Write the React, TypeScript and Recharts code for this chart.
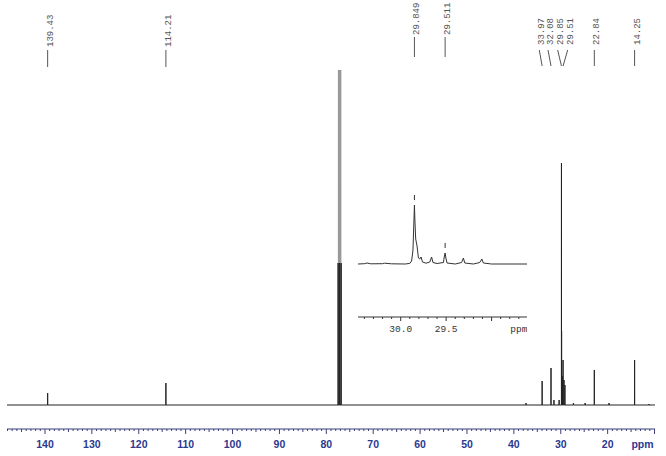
import React from 'react';
import { ComposedChart, Line, Scatter, XAxis, YAxis, ReferenceLine } from 'recharts';

// 13C spectrum, peaks (ppm, height above baseline)
const peakPpm = [139.43, 114.21, 77.48, 77.16, 76.84, 37.4, 33.97, 32.08, 31.45, 30.35, 29.85, 29.82, 29.78, 29.66, 29.51, 29.31, 29.11, 27.3, 24.8, 22.84, 19.7, 14.25, 11.2];
const peakHeight = [12, 22, 142, 142, 142, 2, 24, 37, 5, 5, 242, 74, 29, 29, 45, 25, 20, 2, 2, 35, 2, 45, 1];

// CDCl3 centre line, goes off the top
const solventPpm = [77.16];
const solventHeight = [335];

// expansion 28.6 - 30.5 ppm
const insetPpm = [30.47, 30.4, 30.37, 30.33, 30.2, 30.18, 30.1, 29.95, 29.9, 29.88, 29.865, 29.855, 29.849, 29.843, 29.835, 29.82, 29.805, 29.79, 29.776, 29.76, 29.72, 29.68, 29.66, 29.645, 29.6, 29.53, 29.519, 29.511, 29.503, 29.49, 29.4, 29.33, 29.31, 29.295, 29.2, 29.13, 29.107, 29.09, 29.0, 28.61];
const insetHeight = [0, 0.3, 1, 0.2, 0.3, 0.8, 0.2, 0, 0.6, 3, 14, 42, 59, 42, 25, 18, 6, 5, 7, 2, 0.8, 2, 7, 1.5, 0.5, 1.5, 8, 11, 6, 1, 0, 1.5, 6, 1, 0, 1.5, 5, 1, 0, 0];

// peak labels along the top
const labelText = ['139.43', '114.21', '33.97', '32.08', '29.85', '29.51', '22.84', '14.25'];
const labelPeak = [139.43, 114.21, 33.97, 32.08, 29.85, 29.51, 22.84, 14.25];
const labelAt = [139.43, 114.21, 34.58, 32.72, 30.66, 28.52, 22.84, 14.25];
const insetLabelText = ['29.849', '29.511'];
const insetLabelPeak = [29.849, 29.511];

// axis ticks
const mainLabels = [20, 30, 40, 50, 60, 70, 80, 90, 100, 110, 120, 130, 140];
const mainTicks = Array.from({ length: 139 }, (_, i) => 10 + i);
const insetTicks = [28.7, 28.8, 28.9, 29.0, 29.1, 29.2, 29.3, 29.4, 29.5, 29.6, 29.7, 29.8, 29.9, 30.0, 30.1, 30.2, 30.3, 30.4];
const insetLabels = ['30.0', '29.5'];

const spectrum: { x: number; y: number }[] = [{ x: 148.1, y: 0 }];
peakPpm.forEach((p, i) => {
  spectrum.push({ x: p + 0.012, y: 0 }, { x: p, y: peakHeight[i] }, { x: p - 0.012, y: 0 });
});
spectrum.push({ x: 9.9, y: 0 });

const solvent: { x: number; y: number }[] = [];
solventPpm.forEach((p, i) => {
  solvent.push({ x: p + 0.01, y: 0 }, { x: p, y: solventHeight[i] }, { x: p - 0.01, y: 0 });
});

const inset = insetPpm.map((p, i) => ({ x: p, y: insetHeight[i] }));

const mainLabelPoints = labelText.map((t, i) => ({ x: labelAt[i], y: i < 2 ? 358 : 360, text: t }));
const insetLabelPoints = insetLabelText.map((t, i) => ({ x: insetLabelPeak[i], y: 229, text: t }));

const AXIS = '#3b3f7f';
const BLUE = '#2b3990';
const GREY = '#555';

const MainTick = (props: any) => {
  const { x, y, payload } = props;
  const v = payload.value;
  const len = v % 10 === 0 ? 5 : v % 5 === 0 ? 3 : 2;
  return (
    <g>
      <line x1={x} x2={x} y1={y} y2={y + len} stroke={AXIS} strokeWidth={1} />
      {mainLabels.includes(v) && (
        <text x={x} y={y + 19} textAnchor="middle" fontSize={10.5} fontWeight="bold" fontFamily="Liberation Sans" fill={BLUE}>
          {v}
        </text>
      )}
      {v === 10 && (
        <text x={x - 12} y={y + 19} textAnchor="middle" fontSize={10.5} fontWeight="bold" fontFamily="Liberation Sans" fill={BLUE}>
          ppm
        </text>
      )}
    </g>
  );
};

const InsetTick = (props: any) => {
  const { x, y, payload } = props;
  const v = payload.value;
  const major = Math.round(v * 10) % 5 === 0;
  const txt = v.toFixed(1);
  return (
    <g>
      <line x1={x} x2={x} y1={y} y2={y + (major ? 4 : 2)} stroke="#333" strokeWidth={1} />
      {insetLabels.includes(txt) && (
        <text x={x} y={y + 15} textAnchor="middle" fontSize={9.5} fontFamily="Liberation Mono" fill="#333">
          {txt}
        </text>
      )}
      {Math.abs(v - 28.7) < 0.001 && (
        <text x={x} y={y + 15} textAnchor="middle" fontSize={9.5} fontFamily="Liberation Mono" fill="#333">
          ppm
        </text>
      )}
    </g>
  );
};

const VerticalLabel = (props: any) => {
  const { cx, cy, payload } = props;
  return (
    <text transform={`translate(${cx + 5},${cy}) rotate(-90)`} fontSize={9} fontFamily="Liberation Mono" fill={GREY}>
      {payload.text}
    </text>
  );
};

export default function App() {
  return (
    <div style={{ position: 'absolute', left: 0, top: 0, width: 666, height: 456, background: '#fff' }}>
      <div style={{ position: 'absolute', left: 0, top: 0 }}>
        <ComposedChart width={666} height={456} margin={{ top: 0, right: 11, bottom: 0, left: 7 }}>
          <XAxis
            type="number"
            dataKey="x"
            domain={[9.9, 148.1]}
            reversed
            allowDataOverflow
            ticks={mainTicks}
            interval={0}
            tickSize={0}
            tickMargin={0}
            tickLine={false}
            height={27}
            axisLine={{ stroke: AXIS }}
            tick={<MainTick />}
          />
          <YAxis type="number" domain={[-24, 405]} allowDataOverflow hide />
          {labelText.map((t, i) => (
            <ReferenceLine
              key={t}
              segment={[
                { x: labelAt[i], y: 355 },
                { x: labelPeak[i], y: i < 2 ? 338 : 339 },
              ]}
              stroke={GREY}
              strokeWidth={1}
            />
          ))}
          <Scatter data={mainLabelPoints} dataKey="y" shape={<VerticalLabel />} isAnimationActive={false} />
          <Line data={solvent} dataKey="y" type="linear" dot={false} stroke="#999" strokeWidth={3.5} isAnimationActive={false} />
          <Line data={spectrum} dataKey="y" type="linear" dot={false} stroke="#222" strokeWidth={1} isAnimationActive={false} />
        </ComposedChart>
      </div>
      <div style={{ position: 'absolute', left: 358, top: 0 }}>
        <ComposedChart width={169} height={347} margin={{ top: 0, right: 0, bottom: 0, left: 0 }}>
          <XAxis
            type="number"
            dataKey="x"
            domain={[28.61, 30.47]}
            reversed
            allowDataOverflow
            ticks={insetTicks}
            interval={0}
            tickSize={0}
            tickMargin={0}
            tickLine={false}
            height={30}
            axisLine={{ stroke: '#333' }}
            tick={<InsetTick />}
          />
          <YAxis type="number" domain={[-53, 264]} allowDataOverflow hide />
          {insetLabelPeak.map((p) => (
            <ReferenceLine key={'l' + p} segment={[{ x: p, y: 227 }, { x: p, y: 207 }]} stroke={GREY} strokeWidth={1} />
          ))}
          {insetLabelPeak.map((p, i) => (
            <ReferenceLine
              key={'m' + p}
              segment={[
                { x: p, y: insetHeight[insetPpm.indexOf(p)] + 5 },
                { x: p, y: insetHeight[insetPpm.indexOf(p)] + 10 },
              ]}
              stroke="#333"
              strokeWidth={1}
            />
          ))}
          <Scatter data={insetLabelPoints} dataKey="y" shape={<VerticalLabel />} isAnimationActive={false} />
          <Line data={inset} dataKey="y" type="linear" dot={false} stroke="#333" strokeWidth={1} isAnimationActive={false} />
        </ComposedChart>
      </div>
    </div>
  );
}
